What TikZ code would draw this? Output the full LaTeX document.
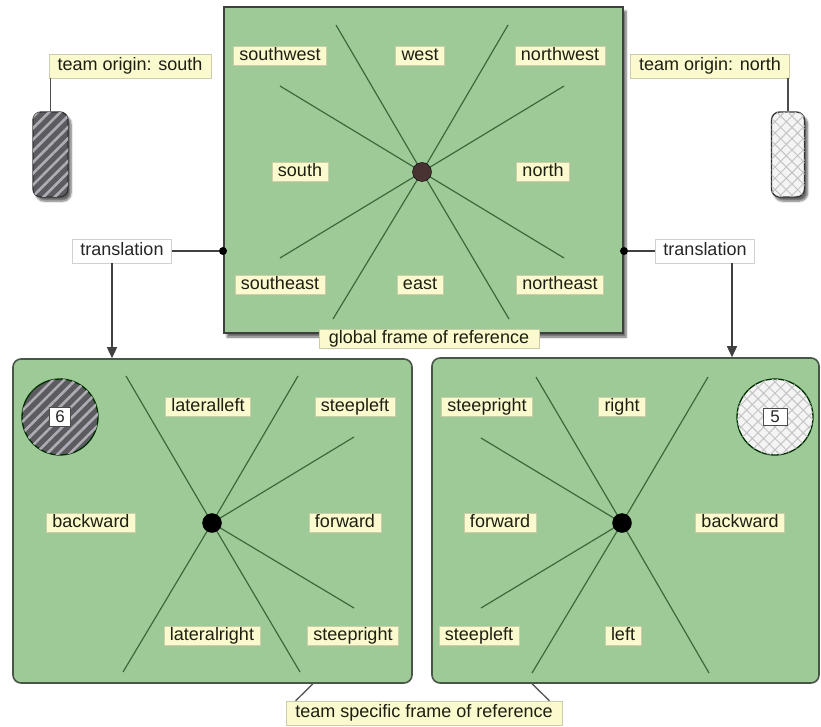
\documentclass[tikz,border=0pt]{standalone}
\usepackage{fontspec}
\setmainfont{Liberation Sans}
\usetikzlibrary{arrows.meta,shadows.blur,patterns.meta}

\definecolor{fieldgreen}{RGB}{158,202,152}
\definecolor{fieldedge}{RGB}{72,86,72}
\definecolor{raygreen}{RGB}{62,104,60}
\definecolor{tagfill}{RGB}{250,250,206}
\definecolor{tagedge}{RGB}{205,205,170}
\definecolor{ink}{RGB}{30,30,18}
\definecolor{hubbrown}{RGB}{72,50,50}
\definecolor{darkteam}{RGB}{92,92,96}
\definecolor{darkstripe}{RGB}{175,172,182}
\definecolor{lightteam}{RGB}{244,244,244}
\definecolor{lighthatch}{RGB}{196,196,196}

\begin{document}
\begin{tikzpicture}[x=1pt,y=-1pt,
  pitch/.style={draw=fieldedge, line width=1.6pt, fill=fieldgreen, inner sep=0pt},
  tagbox/.style={fill=tagfill, draw=tagedge, line width=0.5pt, text=ink,
    font=\fontsize{18}{20}\selectfont, inner xsep=6pt, inner ysep=0pt,
    text height=13pt, text depth=4pt, minimum height=19pt},
  outertag/.style={tagbox, inner xsep=8.5pt, minimum height=24pt},
  note/.style={fill=white, draw=black!18, line width=0.6pt, text=black!85,
    font=\fontsize{18}{20}\selectfont, inner xsep=8pt, inner ysep=0pt,
    text height=13pt, text depth=4pt, minimum height=24pt},
  raybeam/.style={draw=raygreen, line width=1.2pt},
  hub/.style={circle, fill=black, draw=black, inner sep=0pt, minimum size=19pt},
  pindot/.style={circle, fill=black, inner sep=0pt, minimum size=8pt},
  link/.style={draw=black!75, line width=1.5pt},
  softshadow/.style={blur shadow={shadow xshift=3pt, shadow yshift=-4pt,
    shadow blur steps=6, shadow opacity=60}},
  stripedteam/.style={fill=darkteam, draw=black!80, line width=1.3pt,
    postaction={pattern={Lines[angle=45,distance=8pt,line width=2.6pt]},
    pattern color=darkstripe}},
  checkedteam/.style={fill=lightteam, draw=black!80, line width=1.3pt,
    postaction={pattern={Hatch[angle=45,distance=8pt,line width=1pt]},
    pattern color=lighthatch}},
  numbox/.style={fill=white, draw=black!70, line width=0.8pt, inner sep=0pt,
    minimum width=21pt, minimum height=19pt, text=black!85,
    font=\fontsize{17}{17}\selectfont}
]
\useasboundingbox (0,0) rectangle (821,727);

% ---------- global frame ----------
\node[pitch, softshadow, draw=black!75, line width=2pt,
      minimum width=399pt, minimum height=326pt] (gframe) at (423.5,170) {};
\coordinate (gc) at (422,172);
\foreach \dx/\dy in {-86/-147, 86/-147, -142/-86, 142/-86,
                     -142/86, 142/86, -89/147, 87/147}
  \draw[raybeam] (gc) -- ++(\dx,\dy);
\node[hub, fill=hubbrown] (ghub) at (gc) {};

\node[tagbox] (gsw) at (280,56)  {southwest};
\node[tagbox] (gw)  at (420,56)  {west};
\node[tagbox] (gnw) at (560,56)  {northwest};
\node[tagbox] (gs)  at (300,172) {south};
\node[tagbox] (gn)  at (543,172) {north};
\node[tagbox] (gse) at (280,285) {southeast};
\node[tagbox] (ge)  at (420,285) {east};
\node[tagbox] (gne) at (560,285) {northeast};
\node[tagbox, inner xsep=10pt] (gtitle) at (429,339) {global frame of reference};

% ---------- team markers ----------
\node[stripedteam, softshadow, rounded corners=8pt, minimum width=35pt,
      minimum height=85pt, inner sep=0pt] (teamS) at (50.5,154.5) {};
\node[checkedteam, softshadow, rounded corners=8pt, minimum width=33pt,
      minimum height=85pt, inner sep=0pt] (teamN) at (788,154.5) {};
\node[outertag] (originS) at (130,66) {team origin: south};
\node[outertag] (originN) at (710,66) {team origin: north};
\draw[draw=black!70, line width=1.2pt] (teamS.north) -- (teamS.north |- originS.south);
\draw[draw=black!70, line width=1.2pt] (teamN.north) -- (teamN.north |- originN.south);

% ---------- team frame, left ----------
\node[pitch, rounded corners=8pt, minimum width=399pt, minimum height=324pt]
  (lframe) at (212.5,521) {};
\coordinate (lc) at (212,523);
\foreach \dx/\dy in {-86/-147, 86/-147, 142/-86, 142/85, -89/149, 88/149}
  \draw[raybeam] (lc) -- ++(\dx,\dy);
\node[hub] (lhub) at (lc) {};
\node[tagbox] (llat) at (208,407) {lateralleft};
\node[tagbox] (lstl) at (355,407) {steepleft};
\node[tagbox] (lbwd) at (91,523)  {backward};
\node[tagbox] (lfwd) at (345,523) {forward};
\node[tagbox] (lrat) at (212,636) {lateralright};
\node[tagbox] (lstr) at (353,636) {steepright};
\node[stripedteam, circle, minimum size=76pt, inner sep=0pt,
      draw=black!70!green!60!black] (disc6) at (60,417) {};
\node[numbox] (num6) at (disc6) {6};

% ---------- team frame, right ----------
\node[pitch, rounded corners=8pt, minimum width=387pt, minimum height=325pt]
  (rframe) at (625.5,520.5) {};
\coordinate (rc) at (622,523);
\foreach \dx/\dy in {-86/-146, 86/-146, -141/-85, -141/85, -90/150, 87/150}
  \draw[raybeam] (rc) -- ++(\dx,\dy);
\node[hub] (rhub) at (rc) {};
\node[tagbox] (rstr) at (487,407) {steepright};
\node[tagbox] (rrgt) at (622,407) {right};
\node[tagbox] (rfwd) at (500,523) {forward};
\node[tagbox] (rbwd) at (740,523) {backward};
\node[tagbox] (rstl) at (479,636) {steepleft};
\node[tagbox] (rlft) at (623,636) {left};
\node[checkedteam, circle, minimum size=76pt, inner sep=0pt,
      draw=black!70!green!60!black] (disc5) at (775,417) {};
\node[numbox, minimum width=24pt, minimum height=17pt] (num5) at (disc5) {5};

% ---------- translations ----------
\node[note] (transL) at (122,251) {translation};
\node[note] (transR) at (705,251) {translation};
\node[pindot] (pinL) at (gframe.west |- transL) {};
\node[pindot] (pinR) at (gframe.east |- transR) {};
\draw[link] (transL.east) -- (pinL);
\draw[link] (transR.west) -- (pinR);
\draw[link, -{Triangle[width=10pt,length=11pt]}]
  ([xshift=-10pt]transL.south) -- ([xshift=-10pt]transL.south |- lframe.north);
\draw[link, -{Triangle[width=10pt,length=11pt]}]
  ([xshift=27pt]transR.south) -- ([xshift=27pt]transR.south |- rframe.north);

% ---------- shared caption ----------
\node[outertag, inner xsep=9.5pt] (teamtitle) at (424,713) {team specific frame of reference};
\draw[draw=black!65, line width=1.4pt]
  ([xshift=10pt]teamtitle.north west) -- ([xshift=-100pt]lframe.south east);
\draw[draw=black!65, line width=1.4pt]
  ([xshift=-13pt]teamtitle.north east) -- ([xshift=101pt]rframe.south west);
\end{tikzpicture}
\end{document}
